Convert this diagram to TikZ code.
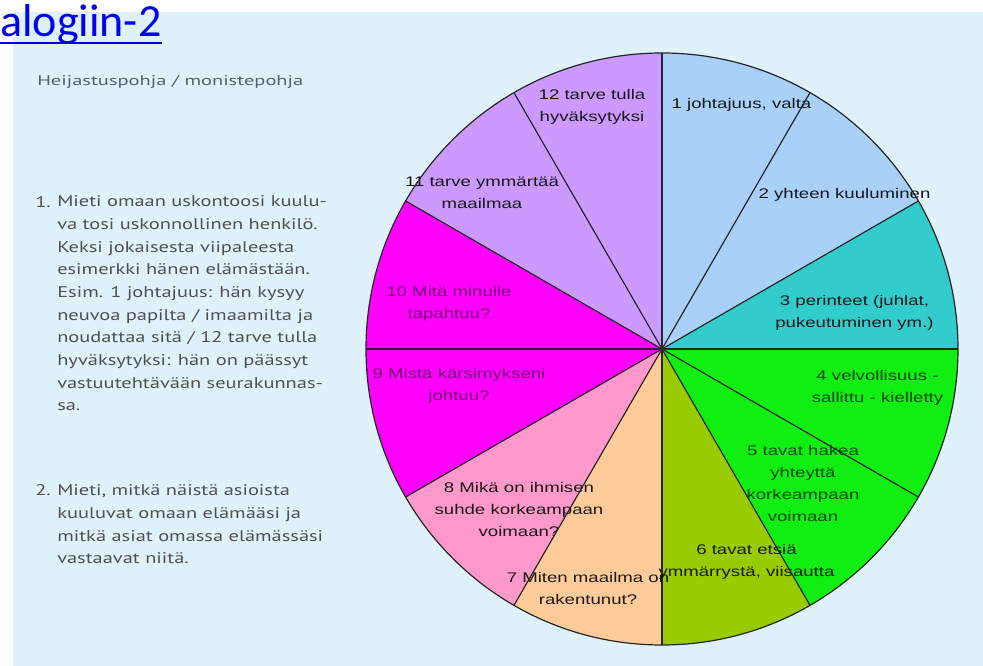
\documentclass[tikz,border=0pt]{standalone}
\usepackage{fontspec}
\usepackage{tikz}
\newfontfamily\piefont[FakeStretch=1.33]{Liberation Sans}
\newfontfamily\bodyfont[FakeStretch=1.32]{PT Sans}
\newfontfamily\headfont[FakeStretch=1.46]{PT Sans}
\newfontfamily\linkfont{Carlito}
\definecolor{pane}{RGB}{223,242,251}
\definecolor{linkblue}{RGB}{0,0,238}
\definecolor{bodygrey}{RGB}{80,80,80}
\definecolor{headgrey}{RGB}{78,98,115}
\definecolor{sliceblue}{RGB}{168,208,248}
\definecolor{sliceteal}{RGB}{51,204,204}
\definecolor{slicegreen}{RGB}{17,238,17}
\definecolor{sliceolive}{RGB}{153,204,0}
\definecolor{slicepeach}{RGB}{255,204,153}
\definecolor{slicepink}{RGB}{255,153,204}
\definecolor{slicemagenta}{RGB}{255,0,255}
\definecolor{slicelilac}{RGB}{204,153,255}
\begin{document}
\begin{tikzpicture}[x=0.75pt,y=0.75pt,
  slicelabel/.style={align=center,inner sep=0pt,text=black!90,font=\piefont\fontsize{10.5pt}{16.5pt}\selectfont},
  spoke/.style={draw=black!85,line width=0.9pt},
  bodytext/.style={align=left,inner sep=0pt,anchor=base west,text=bodygrey,font=\bodyfont\fontsize{11.6pt}{17pt}\selectfont}]
\useasboundingbox (-662,-317) rectangle (321,349);
\fill[white] (-662,-317) rectangle (321,349);
\fill[pane] (-649,337) rectangle (321,-317);

% link text and left column
\node[anchor=base west,inner sep=0pt,text=linkblue,font=\linkfont\fontsize{34.5pt}{40pt}\selectfont] (link) at (-662,312) {alogiin-2};
\draw[linkblue,line width=1.5pt] ([yshift=-4.5pt]link.base west) -- ([yshift=-4.5pt]link.base east);
\node[anchor=base west,inner sep=0pt,text=headgrey,font=\headfont\fontsize{10.5pt}{12pt}\selectfont] (head) at (-625,263) {Heijastuspohja / monistepohja};
\node[bodytext] (num1) at (-627,141) {1.};
\node[bodytext] (item1) at (-605,-62) {Mieti omaan uskontoosi kuulu-\\ va tosi uskonnollinen henkilö.\\ Keksi jokaisesta viipaleesta\\ esimerkki hänen elämästään.\\ Esim. 1 johtajuus: hän kysyy\\ neuvoa papilta / imaamilta ja\\ noudattaa sitä / 12 tarve tulla\\ hyväksytyksi: hän on päässyt\\ vastuutehtävään seurakunnas-\\ sa.};
\node[bodytext] (num2) at (-627,-147) {2.};
\node[bodytext] (item2) at (-605,-215) {Mieti, mitkä näistä asioista\\ kuuluvat omaan elämääsi ja\\ mitkä asiat omassa elämässäsi\\ vastaavat niitä.};

% pie
\coordinate (c) at (0,0);
\fill[sliceblue] (c) -- (60:296) arc (60:90:296) -- cycle;
\fill[sliceblue] (c) -- (30:296) arc (30:60:296) -- cycle;
\fill[sliceteal] (c) -- (0:296) arc (0:30:296) -- cycle;
\fill[slicegreen] (c) -- (-30:296) arc (-30:0:296) -- cycle;
\fill[slicegreen] (c) -- (-60:296) arc (-60:-30:296) -- cycle;
\fill[sliceolive] (c) -- (-90:296) arc (-90:-60:296) -- cycle;
\fill[slicepeach] (c) -- (-120:296) arc (-120:-90:296) -- cycle;
\fill[slicepink] (c) -- (-150:296) arc (-150:-120:296) -- cycle;
\fill[slicemagenta] (c) -- (180:296) arc (180:210:296) -- cycle;
\fill[slicemagenta] (c) -- (150:296) arc (150:180:296) -- cycle;
\fill[slicelilac] (c) -- (120:296) arc (120:150:296) -- cycle;
\fill[slicelilac] (c) -- (90:296) arc (90:120:296) -- cycle;

\draw[spoke] (c) -- (90:296);
\draw[spoke] (c) -- (60:296);
\draw[spoke] (c) -- (30:296);
\draw[spoke] (c) -- (0:296);
\draw[spoke] (c) -- (-30:296);
\draw[spoke] (c) -- (-60:296);
\draw[spoke] (c) -- (-90:296);
\draw[spoke] (c) -- (-120:296);
\draw[spoke] (c) -- (-150:296);
\draw[spoke] (c) -- (180:296);
\draw[spoke] (c) -- (150:296);
\draw[spoke] (c) -- (120:296);
\draw[spoke] (c) circle (296);

\node[slicelabel] (s1) at (79.5,244) {1 johtajuus, valta};
\node[slicelabel] (s2) at (182.5,154) {2 yhteen kuuluminen};
\node[slicelabel] (s3) at (192.5,36.5) {3 perinteet (juhlat,\\ pukeutuminen ym.)};
\node[slicelabel,text=slicegreen!30!black] (s4) at (215.5,-38.5) {4 velvollisuus -\\ sallittu - kielletty};
\node[slicelabel,text=slicegreen!30!black] (s5) at (141,-135) {5 tavat hakea\\ yhteyttä\\ korkeampaan\\ voimaan};
\node[slicelabel] (s6) at (84.5,-213) {6 tavat etsiä\\ ymmärrystä, viisautta};
\node[slicelabel] (s7) at (-74,-240) {7 Miten maailma on\\ rakentunut?};
\node[slicelabel] (s8) at (-143,-160.5) {8 Mikä on ihmisen\\ suhde korkeampaan\\ voimaan?};
\node[slicelabel,text=slicemagenta!45!black] (s9) at (-203,-37) {9 Mistä kärsimykseni\\ johtuu?};
\node[slicelabel,text=slicemagenta!45!black] (s10) at (-213,45) {10 Mitä minulle\\ tapahtuu?};
\node[slicelabel] (s11) at (-180,156.5) {11 tarve ymmärtää\\ maailmaa};
\node[slicelabel] (s12) at (-70,242.5) {12 tarve tulla\\ hyväksytyksi};
\end{tikzpicture}
\end{document}
